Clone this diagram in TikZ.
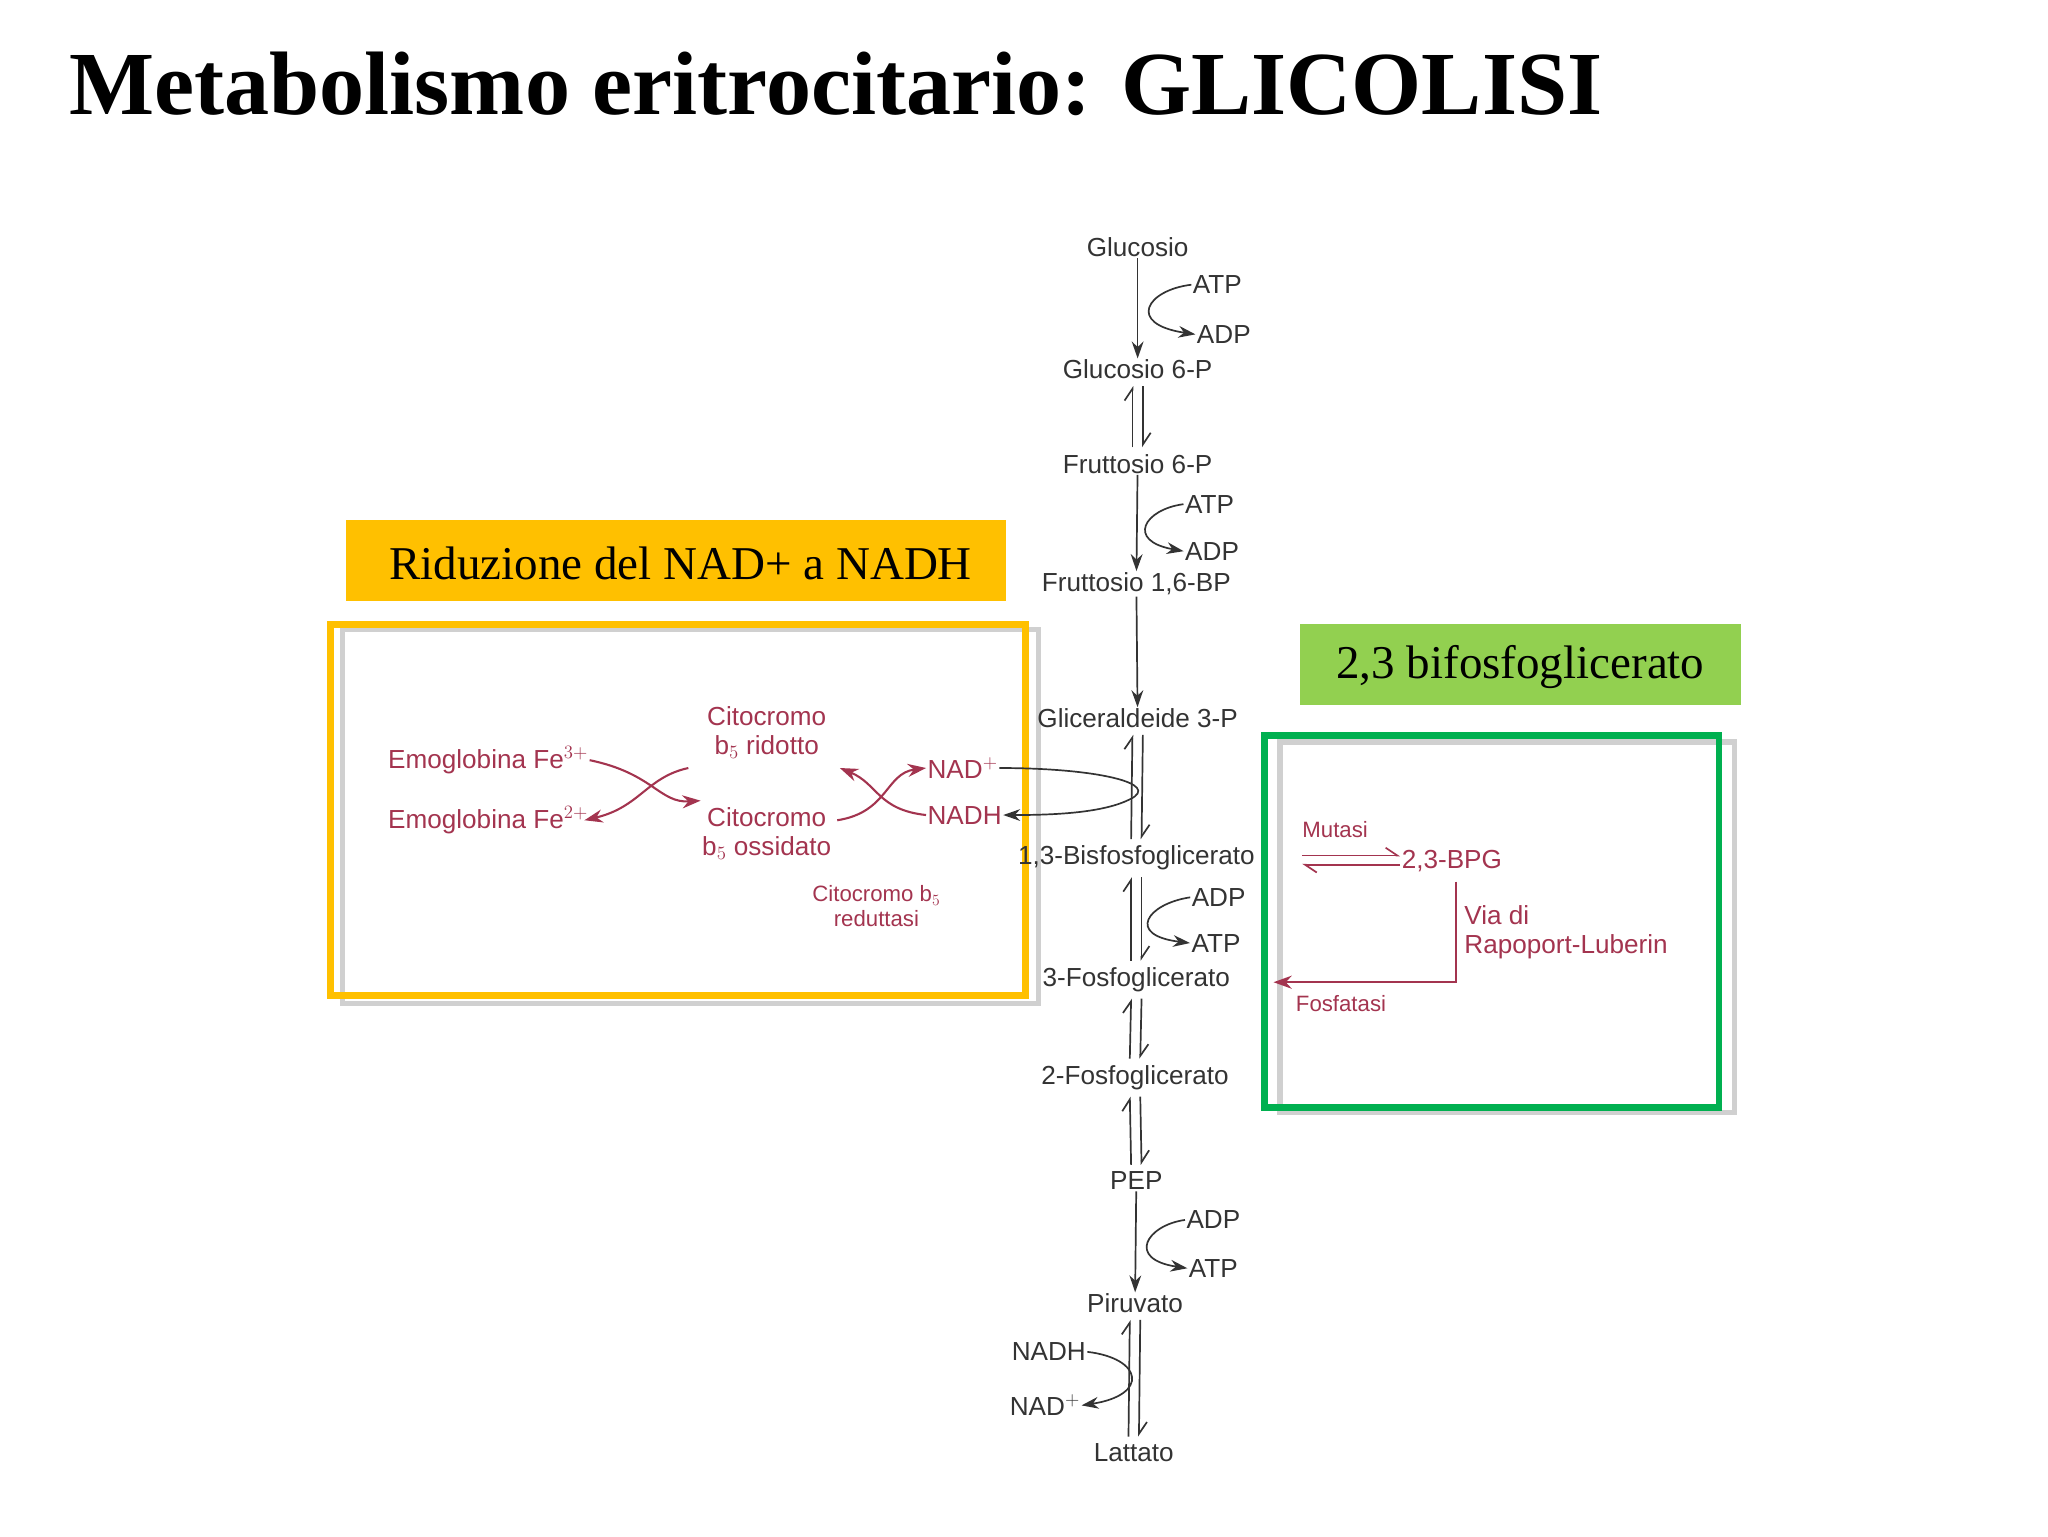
\documentclass[tikz,border=0pt]{standalone}
\usepackage{fontspec}
\setmainfont{Liberation Serif}
\newfontfamily\dsans{Liberation Sans}
\usetikzlibrary{arrows.meta}
\definecolor{rd}{HTML}{A3344F}
\definecolor{org}{HTML}{FFC000}
\definecolor{grn}{HTML}{00B050}
\definecolor{lgrn}{HTML}{92D050}
\definecolor{gry}{HTML}{D0D0D0}
\begin{document}
\begin{tikzpicture}[x=1pt,y=-1pt,
  t/.style={font=\dsans\fontsize{20}{22}\selectfont,inner sep=1pt,text=black!80},
  r/.style={t,text=rd},
  rs/.style={r,font=\dsans\fontsize{17}{19}\selectfont,align=center},
  ar/.style={-{Stealth[length=13pt,width=9pt]},line width=1.3pt,draw=black!80},
  rar/.style={-{Stealth[length=14pt,width=10pt]},line width=1.6pt,draw=rd},
  lab/.style={font=\fontsize{36}{40}\selectfont,inner sep=0pt}]
\useasboundingbox (0,0) rectangle (1568,1176);
\node[anchor=base west,font=\bfseries\fontsize{69}{74}\selectfont,inner sep=0] (title) at (53,88) {Metabolismo eritrocitario: GLICOLISI};
% label boxes
\fill[org] (265,398) rectangle (770,460);
\node[lab] (lo) at (521,431) {Riduzione del NAD+ a NADH};
\fill[lgrn] (995,478) rectangle (1333,540);
\node[lab] (lg) at (1164,511) {2,3 bifosfoglicerato};
\draw[gry,line width=4pt] (262,482) rectangle (795,768);
\draw[org,line width=5pt] (253,478) rectangle (785,762);
\draw[gry,line width=4pt] (980,568) rectangle (1328,852);
\draw[grn,line width=5pt] (968,563) rectangle (1316,848);
% pathway nodes
\node[t] (glc) at (871,189) {Glucosio};
\node[t] (atp1) at (932,218) {ATP};
\node[t] (adp1) at (937,256) {ADP};
\node[t] (g6p) at (871,283) {Glucosio 6-P};
\node[t] (f6p) at (871,355) {Fruttosio 6-P};
\node[t] (atp2) at (926,386) {ATP};
\node[t] (adp2) at (928,422) {ADP};
\node[t] (fbp) at (870,447) {Fruttosio 1,6-BP};
\node[t] (gap) at (871,550) {Gliceraldeide 3-P};
\node[t] (bpg) at (870,657) {1,3-Bisfosfoglicerato};
\node[t] (adp3) at (933,687) {ADP};
\node[t] (atp3) at (931,722) {ATP};
\node[t] (pg3) at (870,750) {3-Fosfoglicerato};
\node[t] (pg2) at (869,825) {2-Fosfoglicerato};
\node[t] (pep) at (870,904) {PEP};
\node[t] (adp4) at (929,934) {ADP};
\node[t] (atp4) at (929,971) {ATP};
\node[t] (pyr) at (869,998) {Piruvato};
\node[t] (nadh2) at (803,1035) {NADH};
\node[t] (nad2) at (800,1076) {NAD$^+$};
\node[t] (lat) at (868,1112) {Lattato};
% single arrows
\draw[ar] (glc) -- (g6p);
\draw[ar] (f6p) -- (fbp);
\draw[ar] (fbp) -- (gap);
\draw[ar] (pep) -- (pyr);
% side curves
\draw[ar] (atp1.west) .. controls (878,222) and (862,248) .. (adp1.west);
\draw[ar] (atp2.west) .. controls (876,390) and (862,414) .. (adp2.west);
\draw[ar] (adp3.west) .. controls (878,692) and (862,716) .. (atp3.west);
\draw[ar] (adp4.west) .. controls (878,938) and (862,964) .. (atp4.west);
\draw[ar] (nadh2.east) .. controls (875,1040) and (880,1068) .. (nad2.east);
% equilibria
\tikzset{eq/.style={line width=1.3pt,draw=black!80}}
\foreach \a/\b in {g6p/f6p,gap/bpg,bpg/pg3,pg3/pg2,pg2/pep,pyr/lat}{
  \draw[eq,-{Straight Barb[left,length=9pt,width=12pt]}] ([xshift=-4pt,yshift=4pt]\b.north) -- ([xshift=-4pt,yshift=-4pt]\a.south);
  \draw[eq,-{Straight Barb[left,length=9pt,width=12pt]}] ([xshift=4pt,yshift=-4pt]\a.south) -- ([xshift=4pt,yshift=4pt]\b.north);
}
% left box content
\node[r,anchor=west] (fe3) at (296,582) {Emoglobina Fe$^{3+}$};
\node[r,anchor=west] (fe2) at (296,628) {Emoglobina Fe$^{2+}$};
\node[r,align=center] (cr) at (587,561) {Citocromo\\b$_5$ ridotto};
\node[r,align=center] (co) at (587,638) {Citocromo\\b$_5$ ossidato};
\node[r,anchor=west] (nad) at (709,588) {NAD$^+$};
\node[r,anchor=west] (nadh) at (709,624) {NADH};
\node[rs] (red) at (671,694) {Citocromo b$_5$\\reduttasi};
\draw[rar] (fe3.east) .. controls (500,592) and (505,615) .. ([yshift=4pt]co.north west);
\draw[rar] (527,588) .. controls (495,595) and (490,618) .. ([xshift=-4pt]fe2.east);
\draw[rar] (641,628) .. controls (680,622) and (678,592) .. (nad.west);
\draw[rar] (nadh.west) .. controls (672,620) and (672,600) .. (643,588);
\draw[ar] (nad.east) .. controls (840,588) and (890,600) .. (865,612) .. controls (845,622) and (810,624) .. (nadh.east);
% right box
\node[rs,anchor=west] (mut) at (996,635) {Mutasi};
\node[r,anchor=west] (bpg23) at (1072,659) {2,3-BPG};
\node[r,anchor=west,align=left] (via) at (1120,714) {Via di\\Rapoport-Luberin};
\node[rs,anchor=west] (fos) at (991,768) {Fosfatasi};
\draw[rd,line width=1.3pt,-{Straight Barb[left,length=9pt,width=12pt]}] (997,655) -- (bpg23.west|-0,655);
\draw[rd,line width=1.3pt,-{Straight Barb[left,length=9pt,width=12pt]}] (bpg23.west|-0,662) -- (997,662);
\draw[rar] (1115,675) -- (1115,752) -- (975,752);
\end{tikzpicture}
\end{document}
